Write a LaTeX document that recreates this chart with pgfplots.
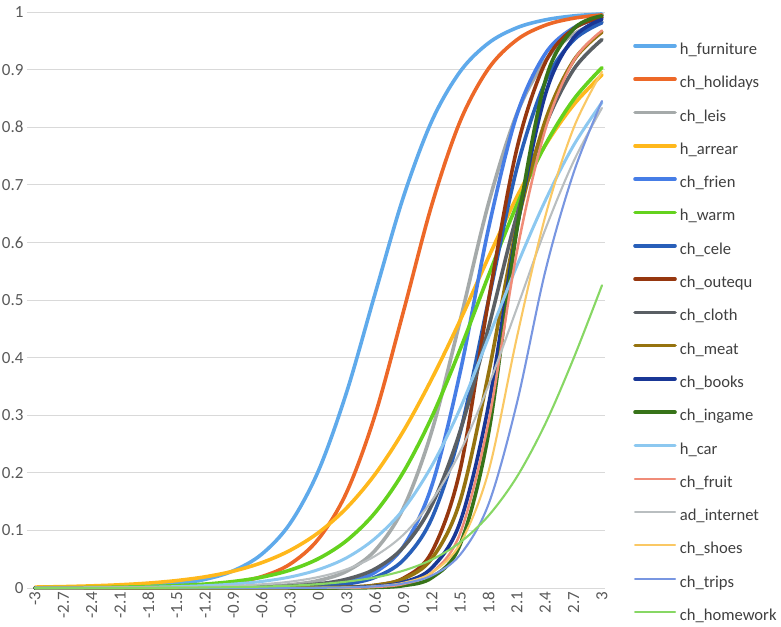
\documentclass[border=0pt]{standalone}
\usepackage{fontspec}
\setmainfont{Carlito}
\usepackage{pgfplots}
\usepackage{pgfplotstable}
\pgfplotsset{compat=1.18}
\definecolor{cA}{RGB}{95,170,235}
\definecolor{cB}{RGB}{237,104,40}
\definecolor{cC}{RGB}{165,170,170}
\definecolor{cD}{RGB}{255,184,28}
\definecolor{cE}{RGB}{70,125,230}
\definecolor{cF}{RGB}{100,210,30}
\definecolor{cG}{RGB}{40,95,185}
\definecolor{cH}{RGB}{150,55,15}
\definecolor{cI}{RGB}{90,95,100}
\definecolor{cJ}{RGB}{150,115,15}
\definecolor{cK}{RGB}{25,55,150}
\definecolor{cL}{RGB}{55,115,25}
\definecolor{cM}{RGB}{140,200,240}
\definecolor{cN}{RGB}{240,140,120}
\definecolor{cO}{RGB}{185,190,192}
\definecolor{cP}{RGB}{250,200,100}
\definecolor{cQ}{RGB}{120,150,225}
\definecolor{cR}{RGB}{135,215,100}
\definecolor{gridc}{RGB}{217,217,217}
\definecolor{tickc}{RGB}{89,89,89}
\definecolor{legc}{RGB}{64,64,64}

\pgfplotstableread{
t s1 s2 s3 s4 s5 s6 s7 s8 s9 s10 s11 s12 s13 s14 s15 s16 s17 s18
-3.0 0.0002 0.0000 0.0000 0.0016 0.0000 0.0003 0.0000 0.0000 0.0000 0.0000 0.0000 0.0000 0.0002 0.0000 0.0001 0.0000 0.0000 0.0000
-2.7 0.0004 0.0001 0.0000 0.0024 0.0000 0.0005 0.0000 0.0000 0.0000 0.0000 0.0000 0.0000 0.0003 0.0000 0.0001 0.0000 0.0000 0.0001
-2.4 0.0009 0.0002 0.0000 0.0037 0.0000 0.0009 0.0000 0.0000 0.0000 0.0000 0.0000 0.0000 0.0005 0.0000 0.0002 0.0000 0.0000 0.0001
-2.1 0.0018 0.0004 0.0000 0.0056 0.0000 0.0014 0.0000 0.0000 0.0000 0.0000 0.0000 0.0000 0.0008 0.0000 0.0004 0.0000 0.0000 0.0002
-1.8 0.0037 0.0009 0.0001 0.0085 0.0000 0.0024 0.0000 0.0000 0.0001 0.0000 0.0000 0.0000 0.0014 0.0000 0.0007 0.0000 0.0000 0.0003
-1.5 0.0075 0.0020 0.0002 0.0129 0.0000 0.0041 0.0000 0.0000 0.0001 0.0000 0.0000 0.0000 0.0024 0.0000 0.0012 0.0000 0.0000 0.0005
-1.2 0.0150 0.0044 0.0005 0.0194 0.0001 0.0068 0.0001 0.0000 0.0003 0.0000 0.0000 0.0000 0.0040 0.0000 0.0021 0.0000 0.0000 0.0009
-0.9 0.0300 0.0093 0.0010 0.0293 0.0002 0.0113 0.0001 0.0000 0.0006 0.0000 0.0000 0.0000 0.0068 0.0000 0.0036 0.0000 0.0000 0.0015
-0.6 0.0588 0.0198 0.0024 0.0440 0.0005 0.0188 0.0004 0.0000 0.0014 0.0000 0.0000 0.0000 0.0114 0.0000 0.0064 0.0000 0.0000 0.0024
-0.3 0.1122 0.0416 0.0056 0.0654 0.0013 0.0311 0.0010 0.0001 0.0032 0.0001 0.0001 0.0000 0.0191 0.0000 0.0110 0.0001 0.0001 0.0040
0.0 0.2038 0.0853 0.0129 0.0962 0.0036 0.0510 0.0026 0.0003 0.0070 0.0004 0.0002 0.0000 0.0320 0.0001 0.0191 0.0003 0.0004 0.0067
0.3 0.3412 0.1670 0.0293 0.1394 0.0100 0.0826 0.0070 0.0012 0.0154 0.0015 0.0008 0.0002 0.0527 0.0005 0.0326 0.0010 0.0010 0.0111
0.6 0.5117 0.3011 0.0654 0.1978 0.0274 0.1310 0.0187 0.0045 0.0332 0.0049 0.0028 0.0009 0.0863 0.0018 0.0557 0.0030 0.0029 0.0183
0.9 0.6797 0.4808 0.1394 0.2729 0.0724 0.2017 0.0488 0.0171 0.0711 0.0160 0.0100 0.0041 0.1370 0.0070 0.0928 0.0090 0.0079 0.0302
1.2 0.8111 0.6658 0.2729 0.3635 0.1780 0.2973 0.1213 0.0630 0.1443 0.0512 0.0351 0.0180 0.2125 0.0266 0.1519 0.0269 0.0217 0.0493
1.5 0.8968 0.8106 0.4651 0.4651 0.3752 0.4148 0.2709 0.2059 0.2729 0.1519 0.1150 0.0759 0.3122 0.0953 0.2369 0.0774 0.0580 0.0794
1.8 0.9462 0.9020 0.6682 0.5744 0.6248 0.5429 0.5000 0.5000 0.4526 0.3729 0.3176 0.2689 0.4354 0.2891 0.3521 0.2028 0.1458 0.1257
2.1 0.9727 0.9518 0.8235 0.6792 0.8220 0.6655 0.7291 0.7631 0.6479 0.6288 0.6248 0.6225 0.5597 0.5842 0.4860 0.4356 0.3213 0.1931
2.4 0.9863 0.9770 0.9153 0.7685 0.9276 0.7692 0.8787 0.9121 0.8022 0.8111 0.8563 0.8808 0.6726 0.7958 0.6225 0.6452 0.5498 0.2850
2.7 0.9932 0.9892 0.9616 0.8389 0.9726 0.8481 0.9512 0.9710 0.9002 0.9158 0.9552 0.9707 0.7685 0.9153 0.7408 0.7987 0.7211 0.3989
3.0 0.9966 0.9949 0.9830 0.8909 0.9900 0.9034 0.9813 0.9908 0.9521 0.9650 0.9871 0.9933 0.8429 0.9677 0.8334 0.8964 0.8455 0.5255
}\ictable

\begin{document}
\begin{tikzpicture}
\path[use as bounding box] (0,0) rectangle (781bp,627bp);
\begin{axis}[
  at={(27bp,39bp)}, anchor=south west,
  scale only axis, width=578bp, height=576bp,
  xmin=-3.085, xmax=3.032, ymin=0, ymax=1,
  clip=false,
  axis line style={draw=none},
  major tick length=0pt,
  ymajorgrids, grid style={gridc, line width=0.9bp},
  xtick={-3,-2.7,-2.4,-2.1,-1.8,-1.5,-1.2,-0.9,-0.6,-0.3,0,0.3,0.6,0.9,1.2,1.5,1.8,2.1,2.4,2.7,3},
  xticklabels={-3,-2.7,-2.4,-2.1,-1.8,-1.5,-1.2,-0.9,-0.6,-0.3,0,0.3,0.6,0.9,1.2,1.5,1.8,2.1,2.4,2.7,3},
  ytick={0,0.1,0.2,0.3,0.4,0.5,0.6,0.7,0.8,0.9,1},
  yticklabels={0,0.1,0.2,0.3,0.4,0.5,0.6,0.7,0.8,0.9,1},
  ticklabel style={font=\fontsize{17bp}{20bp}\selectfont, text=tickc},
  xticklabel style={rotate=90, anchor=east},
  legend cell align=left,
  legend style={at={(1.0433,0.951)}, anchor=north west, draw=none, fill=none,
    font=\fontsize{16.6bp}{20bp}\selectfont, text=legc,
    nodes={inner sep=0pt, text height=12bp, text depth=4bp},
    row sep=17.3bp, column sep=3bp},
  legend image code/.code={\draw[#1, line cap=round] (0bp,4.5bp) -- (40bp,4.5bp);},
  every axis plot/.append style={smooth, tension=0.55, line join=round, line cap=round, no markers},
]
\addplot[cA, line width=3.6bp] table[x=t, y=s1] {\ictable};
\addlegendentry{h\_furniture}
\addplot[cB, line width=3.6bp] table[x=t, y=s2] {\ictable};
\addlegendentry{ch\_holidays}
\addplot[cC, line width=3.6bp] table[x=t, y=s3] {\ictable};
\addlegendentry{ch\_leis}
\addplot[cD, line width=3.6bp] table[x=t, y=s4] {\ictable};
\addlegendentry{h\_arrear}
\addplot[cE, line width=3.6bp] table[x=t, y=s5] {\ictable};
\addlegendentry{ch\_frien}
\addplot[cF, line width=3.6bp] table[x=t, y=s6] {\ictable};
\addlegendentry{h\_warm}
\addplot[cG, line width=3.6bp] table[x=t, y=s7] {\ictable};
\addlegendentry{ch\_cele}
\addplot[cH, line width=3.6bp] table[x=t, y=s8] {\ictable};
\addlegendentry{ch\_outequ}
\addplot[cI, line width=3.6bp] table[x=t, y=s9] {\ictable};
\addlegendentry{ch\_cloth}
\addplot[cJ, line width=3.6bp] table[x=t, y=s10] {\ictable};
\addlegendentry{ch\_meat}
\addplot[cK, line width=3.6bp] table[x=t, y=s11] {\ictable};
\addlegendentry{ch\_books}
\addplot[cL, line width=3.6bp] table[x=t, y=s12] {\ictable};
\addlegendentry{ch\_ingame}
\addplot[cM, line width=3bp] table[x=t, y=s13] {\ictable};
\addlegendentry{h\_car}
\addplot[cN, line width=2.5bp] table[x=t, y=s14] {\ictable};
\addlegendentry{ch\_fruit}
\addplot[cO, line width=2.1bp] table[x=t, y=s15] {\ictable};
\addlegendentry{ad\_internet}
\addplot[cP, line width=2.1bp] table[x=t, y=s16] {\ictable};
\addlegendentry{ch\_shoes}
\addplot[cQ, line width=2.1bp] table[x=t, y=s17] {\ictable};
\addlegendentry{ch\_trips}
\addplot[cR, line width=2.1bp] table[x=t, y=s18] {\ictable};
\addlegendentry{ch\_homework}
\end{axis}
\end{tikzpicture}
\end{document}
